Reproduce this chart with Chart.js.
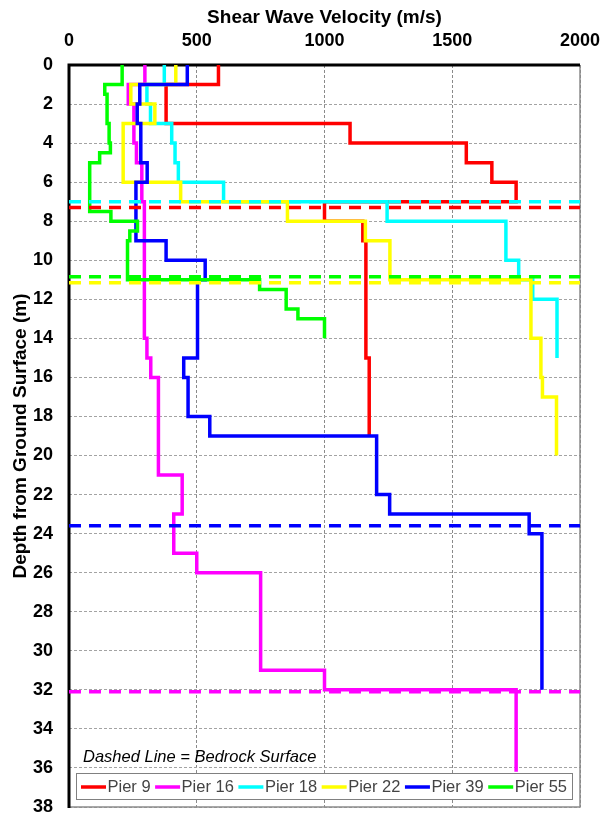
<!DOCTYPE html>
<html>
<head>
<meta charset="utf-8">
<script src="https://cdn.jsdelivr.net/npm/chart.js@4/dist/chart.umd.min.js"></script>
<style>
  html, body { margin: 0; padding: 0; background: #ffffff; }
  canvas { display: block; }
</style>
</head>
<body>
<canvas id="vsChart" width="605" height="813"></canvas>
<script>
// Shear-wave velocity profiles: layer boundary depths (m) and layer velocities (m/s)
const pierNames  = ['Pier 9', 'Pier 16', 'Pier 18', 'Pier 22', 'Pier 39', 'Pier 55'];
const pierColors = ['#FF0000', '#FF00FF', '#00FFFF', '#FFFF00', '#0000FF', '#00FF00'];

const pier9Depths  = [0, 1, 3, 4, 5, 6, 7, 8, 9, 15, 19];
const pier9Vs      = [585, 380, 1100, 1555, 1655, 1750, 1000, 1150, 1162, 1175];

const pier16Depths = [0, 1, 2, 4, 5, 7, 14, 15, 16, 21, 23, 25, 26, 31, 32, 36.2];
const pier16Vs     = [297, 232, 254, 264, 285, 295, 305, 320, 350, 443, 410, 500, 750, 1000, 1750];

const pier18Depths = [0, 1, 2, 3, 4, 5, 6, 7, 8, 10, 11, 12, 15];
const pier18Vs     = [373, 305, 319, 402, 415, 428, 605, 1245, 1710, 1760, 1815, 1910];

const pier22Depths = [0, 1, 2, 3, 6, 7, 8, 9, 11, 14, 16, 17, 20];
const pier22Vs     = [418, 242, 336, 212, 437, 855, 1160, 1256, 1808, 1847, 1853, 1908];

const pier39Depths = [0, 1, 2, 3, 5, 6, 9, 10, 11, 15, 16, 18, 19, 22, 23, 24, 32];
const pier39Vs     = [463, 277, 267, 281, 306, 262, 380, 533, 503, 449, 466, 551, 1204, 1255, 1801, 1851];

const pier55Depths = [0, 1, 1.5, 3, 4, 4.5, 5, 7.5, 8, 8.5, 9, 11, 11.5, 12.5, 13, 14];
const pier55Vs     = [208, 140, 149, 157, 162, 120, 81, 164, 268, 238, 229, 746, 850, 896, 1000];

// Depth to bedrock at each pier (m), same order as pierNames
const bedrockDepths = [7.3, 32.1, 7.0, 11.15, 23.6, 10.85];

const velocityTicks = [0, 500, 1000, 1500, 2000];
const depthTicks    = [0, 2, 4, 6, 8, 10, 12, 14, 16, 18, 20, 22, 24, 26, 28, 30, 32, 34, 36, 38];

const noteText = 'Dashed Line = Bedrock Surface';

const FONT = '"Liberation Sans", Arial, Helvetica, sans-serif';

// Turn layer boundaries + velocities into a stepped profile
function stairs(depths, vs) {
  const pts = [];
  vs.forEach((v, i) => {
    pts.push({ x: v, y: depths[i] });
    pts.push({ x: v, y: depths[i + 1] });
  });
  return pts;
}

const profiles = [
  [pier9Depths, pier9Vs],
  [pier16Depths, pier16Vs],
  [pier18Depths, pier18Vs],
  [pier22Depths, pier22Vs],
  [pier39Depths, pier39Vs],
  [pier55Depths, pier55Vs]
];

const layered = [];
profiles.forEach(([d, v], i) => {
  layered.push({
    label: pierNames[i],
    data: stairs(d, v),
    borderColor: pierColors[i],
    borderWidth: 3.5,
    borderCapStyle: 'butt',
    borderJoinStyle: 'miter',
    showLine: true,
    pointRadius: 0,
    fill: false,
    tension: 0
  });
});
bedrockDepths.forEach((d, i) => {
  layered.push({
    label: pierNames[i] + ' bedrock',
    data: [{ x: velocityTicks[0], y: d }, { x: velocityTicks[velocityTicks.length - 1], y: d }],
    borderColor: pierColors[i],
    borderWidth: 3.5,
    borderDash: [12, 8],
    borderCapStyle: 'butt',
    showLine: true,
    pointRadius: 0,
    fill: false,
    tension: 0
  });
});
// later entries are painted on top
layered.forEach((ds, i) => { ds.order = layered.length - i; });

// Plot frame: heavy black top/left edges, light grey right/bottom edges
const framePlugin = {
  id: 'frame',
  beforeDatasetsDraw(chart) {
    const { ctx, chartArea: a } = chart;
    ctx.save();
    ctx.strokeStyle = '#8c8c8c';
    ctx.lineWidth = 1.5;
    ctx.beginPath();
    ctx.moveTo(a.right, a.top);
    ctx.lineTo(a.right, a.bottom);
    ctx.lineTo(a.left, a.bottom);
    ctx.stroke();
    ctx.strokeStyle = '#000000';
    ctx.lineWidth = 3;
    ctx.beginPath();
    ctx.moveTo(a.left, a.bottom + 1);
    ctx.lineTo(a.left, a.top);
    ctx.lineTo(a.right, a.top);
    ctx.stroke();
    ctx.restore();
  }
};

// Note and boxed legend along the foot of the plot
const legendPlugin = {
  id: 'footLegend',
  afterDraw(chart) {
    const { ctx } = chart;
    ctx.save();
    ctx.fillStyle = '#000000';
    ctx.font = 'italic 16.5px ' + FONT;
    ctx.textBaseline = 'middle';
    ctx.textAlign = 'left';
    ctx.fillText(noteText, 83, 757);

    const boxL = 76, boxT = 773, boxR = 573, boxB = 800;
    ctx.fillStyle = '#ffffff';
    ctx.fillRect(boxL, boxT, boxR - boxL, boxB - boxT);
    ctx.strokeStyle = '#808080';
    ctx.lineWidth = 1;
    ctx.strokeRect(boxL + 0.5, boxT + 0.5, boxR - boxL - 1, boxB - boxT - 1);

    ctx.font = '16.5px ' + FONT;
    const cy = (boxT + boxB) / 2 + 0.5;
    let x = 81;
    pierNames.forEach((name, i) => {
      ctx.strokeStyle = pierColors[i];
      ctx.lineWidth = 3.5;
      ctx.beginPath();
      ctx.moveTo(x, cy);
      ctx.lineTo(x + 25, cy);
      ctx.stroke();
      ctx.fillStyle = '#444444';
      ctx.fillText(name, x + 26.5, cy);
      x += 26.5 + ctx.measureText(name).width + 4.5;
    });
    ctx.restore();
  }
};

const plainLabel = v => String(v);

new Chart(document.getElementById('vsChart'), {
  type: 'scatter',
  data: { datasets: layered },
  options: {
    responsive: false,
    animation: false,
    layout: { padding: { left: 0, top: 0, right: 25, bottom: 6 } },
    plugins: {
      legend: { display: false },
      tooltip: { enabled: false }
    },
    scales: {
      x: {
        type: 'linear',
        position: 'top',
        min: velocityTicks[0],
        max: velocityTicks[velocityTicks.length - 1],
        afterBuildTicks(s) { s.ticks = velocityTicks.map(v => ({ value: v })); },
        afterFit(s) { s.height = 65; s.paddingLeft = 0; s.paddingRight = 0; },
        ticks: {
          color: '#000000',
          font: { family: FONT, size: 18, weight: 'bold' },
          padding: 13,
          maxRotation: 0,
          autoSkip: false,
          callback: plainLabel
        },
        grid: { color: '#8a8a8a', lineWidth: 1, drawTicks: false },
        border: { display: false, dash: [3, 2] },
        title: {
          display: true,
          text: 'Shear Wave Velocity (m/s)',
          color: '#000000',
          font: { family: FONT, size: 19, weight: 'bold' },
          padding: { top: 6, bottom: 0 }
        }
      },
      y: {
        type: 'linear',
        reverse: true,
        min: depthTicks[0],
        max: depthTicks[depthTicks.length - 1],
        afterBuildTicks(s) { s.ticks = depthTicks.map(v => ({ value: v })); },
        afterFit(s) { s.width = 69; s.paddingTop = 0; s.paddingBottom = 0; },
        ticks: {
          color: '#000000',
          font: { family: FONT, size: 18, weight: 'bold' },
          padding: 16,
          autoSkip: false,
          callback: plainLabel
        },
        grid: { color: '#a3a3a3', lineWidth: 1, drawTicks: false },
        border: { display: false, dash: [3, 2] },
        title: {
          display: true,
          text: 'Depth from Ground Surface (m)',
          color: '#000000',
          font: { family: FONT, size: 19, weight: 'bold' },
          padding: { top: 9, bottom: 0 }
        }
      }
    }
  },
  plugins: [framePlugin, legendPlugin]
});
</script>
</body>
</html>
